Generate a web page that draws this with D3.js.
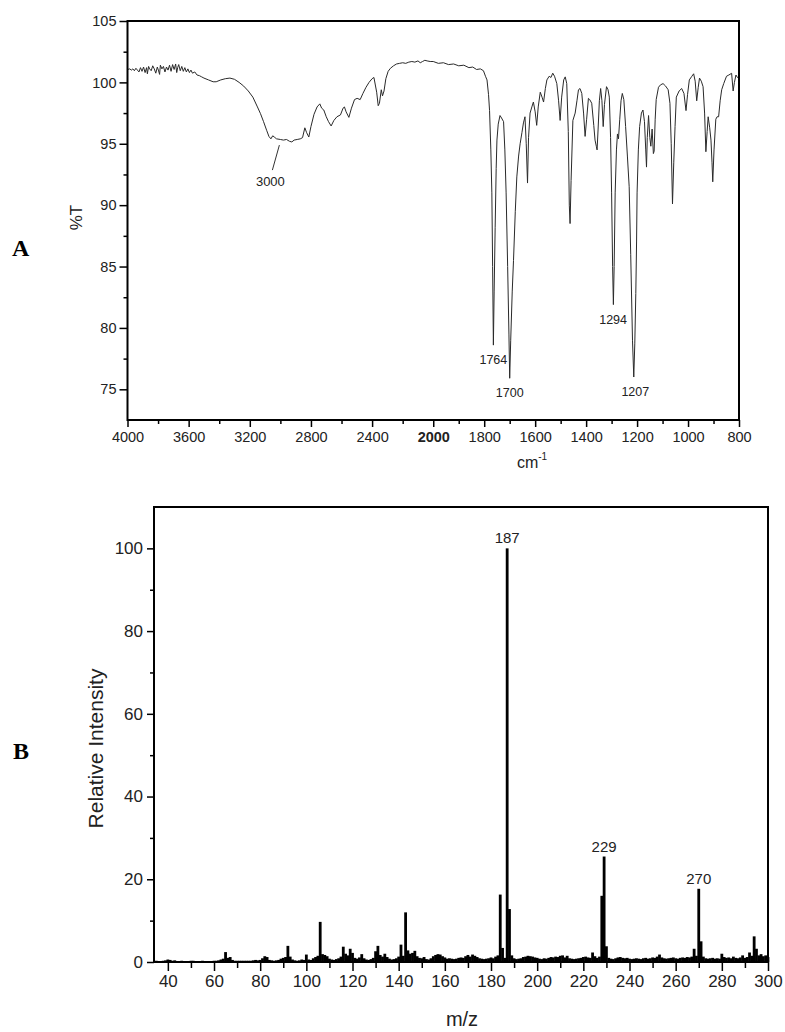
<!DOCTYPE html>
<html lang="en">
<head>
    <meta charset="UTF-8">
    <title>IR spectrum (A) and mass spectrum (B)</title>
    <script src="https://cdn.jsdelivr.net/npm/d3@7"></script>
    <style>
        body { margin: 0; background: #fff; }
        svg { display: block; font-family: "Liberation Sans", Arial, Helvetica, sans-serif; }
        .tick text { fill: #222; }
        .tick line { stroke: #000; stroke-width: 1.5; }
        .panel-letter { font-family: "Liberation Serif", "Times New Roman", serif; font-weight: bold; font-size: 24px; }
    </style>
</head>
<body>
<div id="chart"></div>
<script>
// ---- Panel A: IR spectrum, [wavenumber cm-1, %T] ----
const irPoints = [
  [4000,101.05],[3985,101.1],[3975,101.0],[3965,101.1],[3955,100.95],[3945,101.15],[3935,101.0],
  [3925,100.85],[3915,101.2],[3905,100.9],[3895,101.25],[3885,100.8],[3875,101.2],[3870,100.7],
  [3862,101.3],[3855,101.1],[3845,100.95],[3835,101.35],[3825,101.1],[3815,100.75],[3805,101.25],
  [3798,101.0],[3790,100.65],[3785,101.4],[3775,101.1],[3765,101.3],[3755,100.85],[3745,101.25],
  [3735,101.0],[3725,101.4],[3715,100.9],[3705,101.45],[3695,101.05],[3685,101.5],[3678,100.8],
  [3672,101.2],[3665,101.45],[3655,100.95],[3645,101.3],[3635,100.9],[3625,101.2],[3615,100.85],
  [3605,101.1],[3595,100.8],[3585,101.0],[3575,100.75],[3560,100.85],[3545,100.6],[3530,100.55],
  [3515,100.45],[3500,100.35],[3470,100.2],[3440,100.05],[3420,100.05],[3390,100.2],[3360,100.3],
  [3330,100.35],[3300,100.25],[3270,100.0],[3240,99.7],[3210,99.3],[3180,98.8],[3150,98.0],
  [3130,97.45],[3110,96.8],[3090,96.1],[3075,95.6],[3062,95.4],[3050,95.65],[3040,95.55],[3025,95.4],
  [3000,95.35],[2980,95.3],[2960,95.35],[2940,95.2],[2925,95.15],[2910,95.3],[2890,95.35],[2870,95.4],
  [2855,95.5],[2840,96.3],[2828,95.9],[2814,95.55],[2800,96.4],[2780,97.4],[2760,98.0],[2742,98.25],
  [2730,97.9],[2716,97.75],[2700,97.2],[2685,96.8],[2668,96.45],[2650,96.9],[2630,97.2],[2607,97.35],
  [2590,97.9],[2581,98.0],[2570,97.6],[2552,97.15],[2535,97.9],[2515,98.6],[2498,98.7],[2478,98.6],
  [2460,99.1],[2440,99.6],[2420,100.0],[2400,100.3],[2388,100.4],[2370,99.2],[2360,98.1],[2352,98.3],
  [2340,99.4],[2332,98.9],[2322,99.3],[2310,100.3],[2295,100.9],[2280,101.15],[2260,101.35],
  [2240,101.5],[2220,101.55],[2200,101.6],[2180,101.55],[2160,101.65],[2140,101.7],[2120,101.65],
  [2100,101.75],[2085,101.6],[2070,101.7],[2055,101.8],[2040,101.75],[2020,101.7],[2000,101.7],
  [1980,101.55],[1960,101.6],[1940,101.45],[1920,101.5],[1900,101.35],[1880,101.4],[1860,101.2],
  [1845,101.25],[1830,101.05],[1815,101.1],[1803,100.95],[1795,100.5],[1789,100.2],[1783,99.0],
  [1779,97.7],[1774,94.5],[1770,91.0],[1767,85.0],[1764,78.6],[1761,83.0],[1757,88.2],[1753,93.0],
  [1750,95.3],[1745,96.6],[1738,97.3],[1732,97.1],[1724,96.8],[1719,94.5],[1714,91.0],[1708,85.0],
  [1703,79.5],[1700,75.9],[1696,79.0],[1690,83.0],[1685,85.5],[1678,89.5],[1672,92.3],[1665,94.0],
  [1659,95.0],[1652,95.9],[1646,96.7],[1640,97.2],[1635,95.0],[1630,91.8],[1626,95.5],[1620,97.5],
  [1613,98.0],[1607,98.4],[1600,97.6],[1594,96.5],[1588,98.0],[1580,99.2],[1573,98.8],[1567,98.4],
  [1560,99.5],[1554,100.2],[1545,100.5],[1538,100.4],[1531,100.75],[1524,100.5],[1515,99.9],
  [1508,98.5],[1502,96.9],[1496,98.8],[1488,100.2],[1482,100.45],[1476,99.9],[1470,96.0],[1466,90.0],
  [1463,88.5],[1459,92.0],[1452,96.9],[1443,97.5],[1436,98.5],[1430,99.4],[1424,99.5],[1417,99.1],
  [1410,97.5],[1404,95.6],[1398,97.0],[1391,98.7],[1386,98.6],[1378,98.3],[1370,96.5],[1365,95.3],
  [1360,94.8],[1357,94.5],[1353,96.2],[1348,98.5],[1343,99.5],[1338,98.5],[1333,96.4],[1328,98.2],
  [1320,99.65],[1314,99.4],[1309,98.8],[1304,95.5],[1300,91.0],[1296,85.0],[1293,81.9],[1290,85.0],
  [1286,91.0],[1281,94.5],[1277,95.8],[1273,95.4],[1268,97.0],[1263,98.5],[1258,99.1],[1252,98.6],
  [1245,96.4],[1238,94.0],[1231,91.5],[1225,86.0],[1218,79.0],[1213,76.0],[1209,78.7],[1205,82.8],
  [1202,87.0],[1200,91.0],[1195,94.5],[1190,96.4],[1183,97.5],[1177,97.75],[1171,96.8],[1166,94.5],
  [1163,93.1],[1160,95.5],[1155,97.3],[1150,95.5],[1146,94.8],[1141,96.2],[1136,94.2],[1133,94.4],
  [1129,97.0],[1125,98.6],[1116,99.6],[1108,99.8],[1098,99.9],[1088,99.7],[1078,99.4],[1071,98.3],
  [1066,95.0],[1061,90.1],[1056,93.5],[1051,96.4],[1046,98.8],[1035,99.3],[1025,99.5],[1016,99.1],
  [1008,97.7],[1002,99.0],[995,100.2],[985,100.5],[978,100.7],[972,100.1],[966,98.5],[960,99.6],
  [955,100.35],[948,100.1],[941,99.65],[935,97.5],[930,94.35],[925,96.0],[921,97.2],[915,96.3],
  [910,95.3],[906,93.5],[903,91.9],[898,94.5],[891,97.0],[886,97.2],[880,97.2],[874,98.5],[868,99.4],
  [860,99.9],[849,100.5],[840,100.6],[829,100.74],[823,99.3],[818,100.0],[812,100.6],[806,100.4],
  [800,100.3]
];
const irXMajor = [4000,3600,3200,2800,2400,2000,1800,1600,1400,1200,1000,800];
const irXMinor = [3800,3400,3000,2600,2200,1900,1700,1500,1300,1100,900];
const irYMajor = [75,80,85,90,95,100,105];
const irYMinor = [77.5,82.5,87.5,92.5,97.5,102.5];
const irPeakLabels = [
  {wn:1764, t:78.6, text:"1764"},
  {wn:1700, t:75.9, text:"1700"},
  {wn:1294, t:81.9, text:"1294"},
  {wn:1207, t:76.0, text:"1207"}
];
const irBroadLabel = {wn:3000, t:95.3, text:"3000"};

// ---- Panel B: mass spectrum, relative intensity for every m/z from 35 to 300 ----
const msStartMz = 35;
const msIntensity = [
  0.3,0.2,0.2,0.3,0.4,0.6,0.5,0.3,0.4,0.2,            // 35-44
  0.2,0.3,0.2,0.2,0.2,0.3,0.3,0.2,0.2,0.2,            // 45-54
  0.3,0.2,0.2,0.2,0.2,0.3,0.3,0.4,0.6,0.8,            // 55-64
  2.4,1.0,1.2,0.5,0.3,0.3,0.3,0.3,0.3,0.3,            // 65-74
  0.3,0.3,0.4,0.5,0.4,0.5,0.9,1.4,1.2,0.5,            // 75-84
  0.4,0.3,0.4,0.5,0.8,1.0,1.2,3.9,1.3,0.6,            // 85-94
  0.4,0.3,0.4,0.6,0.5,1.8,0.6,0.5,0.9,1.2,            // 95-104
  1.5,9.7,1.9,1.7,1.4,0.8,0.6,0.5,0.7,0.9,            // 105-114
  1.3,3.7,2.0,1.6,3.2,2.2,1.0,0.8,1.1,1.9,            // 115-124
  0.9,0.6,0.5,0.7,1.0,2.6,3.9,1.7,1.3,2.0,            // 125-134
  1.2,0.8,0.6,0.7,0.9,1.3,4.2,1.5,12.0,2.8,           // 135-144
  2.0,2.2,2.7,1.4,1.0,0.9,1.2,0.7,0.6,0.9,            // 145-154
  1.4,1.7,1.9,1.8,1.4,1.1,0.8,0.9,0.8,0.7,            // 155-164
  0.8,1.0,1.1,1.0,1.4,1.7,1.3,1.8,1.5,1.2,            // 165-174
  0.9,0.8,0.7,0.8,0.9,1.1,0.9,1.3,1.6,16.3,           // 175-184
  3.4,1.0,100,12.8,1.6,0.9,0.7,0.8,0.9,1.2,           // 185-194
  1.3,1.5,1.4,1.3,1.1,1.0,0.8,0.7,0.9,0.8,            // 195-204
  1.0,1.2,1.1,1.3,1.2,1.5,1.6,1.1,1.5,0.9,            // 205-214
  0.8,0.7,0.8,0.9,1.0,1.2,1.3,1.1,1.0,2.3,            // 215-224
  1.4,1.0,1.3,16.0,25.5,3.8,1.0,0.8,0.7,0.9,          // 225-234
  1.1,1.2,1.0,0.9,1.0,0.8,0.7,0.8,0.9,0.8,            // 235-244
  0.7,0.9,1.0,0.8,0.9,1.1,1.0,1.3,1.8,1.1,            // 245-254
  0.9,0.8,0.9,1.0,1.1,0.9,0.8,1.0,1.1,1.0,            // 255-264
  1.2,1.1,1.3,3.2,1.5,17.7,5.0,1.3,0.9,0.8,           // 265-274
  0.9,1.0,0.8,0.9,0.8,2.0,1.2,1.0,1.1,0.9,            // 275-284
  1.3,1.0,0.9,1.1,1.6,1.0,1.2,2.3,1.5,6.2,            // 285-294
  3.2,1.6,1.9,1.4,1.6,1.2                             // 295-300
];
const msLabelled = [187, 229, 270];
const msXMajor = [40,60,80,100,120,140,160,180,200,220,240,260,280,300];
const msXMinor = [50,70,90,110,130,150,170,190,210,230,250,270,290];
const msYMajor = [0,20,40,60,80,100];
const msYMinor = [10,30,50,70,90];

const W = 785, H = 1032;
const svg = d3.select("#chart").append("svg")
    .attr("width", W).attr("height", H);
svg.append("rect").attr("width", W).attr("height", H).attr("fill", "#fff");

// ================= Panel A =================
const a = {left: 127.5, top: 21, right: 739, bottom: 420};
// split wavenumber axis: 4000-2000 on the left half, 2000-800 on the right half
const xA = d3.scaleLinear()
    .domain([4000, 2000, 800])
    .range([a.left, (a.left + a.right) / 2, a.right]);
const yA = d3.scaleLinear().domain([72.5, 105]).range([a.bottom, a.top]);

const gA = svg.append("g");

gA.append("g")
    .attr("transform", `translate(0,${a.bottom})`)
    .call(d3.axisBottom(xA).tickValues(irXMinor).tickSize(4).tickFormat(""))
    .call(g => g.select(".domain").remove());
gA.append("g")
    .attr("transform", `translate(0,${a.bottom})`)
    .call(d3.axisBottom(xA).tickValues(irXMajor).tickSize(7).tickPadding(5).tickFormat(d3.format("d")))
    .call(g => g.select(".domain").remove())
    .call(g => g.selectAll(".tick text").attr("font-size", 14.5))
    .call(g => g.selectAll(".tick text").filter(d => d === 2000).attr("font-weight", "bold"));

gA.append("g")
    .attr("transform", `translate(${a.left},0)`)
    .call(d3.axisLeft(yA).tickValues(irYMinor).tickSize(4).tickFormat(""))
    .call(g => g.select(".domain").remove());
gA.append("g")
    .attr("transform", `translate(${a.left},0)`)
    .call(d3.axisLeft(yA).tickValues(irYMajor).tickSize(8).tickPadding(3).tickFormat(d3.format("d")))
    .call(g => g.select(".domain").remove())
    .call(g => g.selectAll(".tick text").attr("font-size", 14.5));

gA.append("path")
    .datum(irPoints)
    .attr("fill", "none")
    .attr("stroke", "#2a2a2a")
    .attr("stroke-width", 1)
    .attr("stroke-linejoin", "round")
    .attr("d", d3.line().x(d => xA(d[0])).y(d => yA(d[1])));

gA.append("rect")
    .attr("x", a.left).attr("y", a.top)
    .attr("width", a.right - a.left).attr("height", a.bottom - a.top)
    .attr("fill", "none").attr("stroke", "#000").attr("stroke-width", 2);

// peak labels under the sharp bands
gA.selectAll(".peak-label")
    .data(irPeakLabels)
    .join("text")
    .attr("class", "peak-label")
    .attr("x", d => xA(d.wn))
    .attr("y", d => yA(d.t) + 19)
    .attr("text-anchor", "middle")
    .attr("font-size", 12.5)
    .attr("fill", "#222")
    .text(d => d.text);

// broad O-H band label with leader
const bx = xA(irBroadLabel.wn), by = yA(irBroadLabel.t);
gA.append("line")
    .attr("x1", bx - 1).attr("y1", by + 5)
    .attr("x2", bx - 8).attr("y2", by + 30)
    .attr("stroke", "#333").attr("stroke-width", 1);
gA.append("text")
    .attr("x", bx - 10).attr("y", by + 46)
    .attr("text-anchor", "middle").attr("font-size", 13).attr("fill", "#222")
    .text(irBroadLabel.text);

gA.append("text")
    .attr("transform", `translate(82,${(a.top + a.bottom) / 2 - 3}) rotate(-90)`)
    .attr("text-anchor", "middle").attr("font-size", 17).attr("fill", "#222")
    .text("%T");

const cmLabel = gA.append("text")
    .attr("x", 532).attr("y", 468)
    .attr("text-anchor", "middle").attr("font-size", 16).attr("fill", "#222");
cmLabel.append("tspan").text("cm");
cmLabel.append("tspan").attr("dy", -8).attr("font-size", 10).text("-1");

svg.append("text").attr("class", "panel-letter")
    .attr("x", 12).attr("y", 256).text("A");

// ================= Panel B =================
const b = {left: 154, top: 507, right: 768, bottom: 962};
const xB = d3.scaleLinear().domain([34, 300]).range([b.left, b.right]);
const yB = d3.scaleLinear().domain([0, 110]).range([b.bottom, b.top]);
const msData = msIntensity.map((v, i) => ({mz: msStartMz + i, v: v}));

const gB = svg.append("g");

gB.append("g")
    .attr("transform", `translate(0,${b.bottom})`)
    .call(d3.axisBottom(xB).tickValues(msXMinor).tickSize(6).tickFormat(""))
    .call(g => g.select(".domain").remove());
gB.append("g")
    .attr("transform", `translate(0,${b.bottom})`)
    .call(d3.axisBottom(xB).tickValues(msXMajor).tickSize(9).tickPadding(4).tickFormat(d3.format("d")))
    .call(g => g.select(".domain").remove())
    .call(g => g.selectAll(".tick text").attr("font-size", 17));

gB.append("g")
    .attr("transform", `translate(${b.left},0)`)
    .call(d3.axisLeft(yB).tickValues(msYMinor).tickSize(4).tickFormat(""))
    .call(g => g.select(".domain").remove());
gB.append("g")
    .attr("transform", `translate(${b.left},0)`)
    .call(d3.axisLeft(yB).tickValues(msYMajor).tickSize(7).tickPadding(4).tickFormat(d3.format("d")))
    .call(g => g.select(".domain").remove())
    .call(g => g.selectAll(".tick text").attr("font-size", 17));

const barW = 2.8;
gB.selectAll(".ms-bar")
    .data(msData)
    .join("rect")
    .attr("class", "ms-bar")
    .attr("x", d => xB(d.mz) - barW / 2)
    .attr("y", d => yB(d.v))
    .attr("width", barW)
    .attr("height", d => yB(0) - yB(d.v))
    .attr("fill", "#000");

gB.selectAll(".ms-label")
    .data(msData.filter(d => msLabelled.includes(d.mz)))
    .join("text")
    .attr("class", "ms-label")
    .attr("x", d => xB(d.mz))
    .attr("y", d => yB(d.v) - 5)
    .attr("text-anchor", "middle").attr("font-size", 15).attr("fill", "#222")
    .text(d => d.mz);

gB.append("rect")
    .attr("x", b.left).attr("y", b.top)
    .attr("width", b.right - b.left).attr("height", b.bottom - b.top)
    .attr("fill", "none").attr("stroke", "#000").attr("stroke-width", 2);

gB.append("text")
    .attr("transform", `translate(103,${(b.top + b.bottom) / 2 + 14}) rotate(-90)`)
    .attr("text-anchor", "middle").attr("font-size", 21).attr("fill", "#222")
    .text("Relative Intensity");

gB.append("text")
    .attr("x", 462).attr("y", 1026)
    .attr("text-anchor", "middle").attr("font-size", 20).attr("fill", "#222")
    .text("m/z");

svg.append("text").attr("class", "panel-letter")
    .attr("x", 13).attr("y", 759).text("B");
</script>
</body>
</html>
